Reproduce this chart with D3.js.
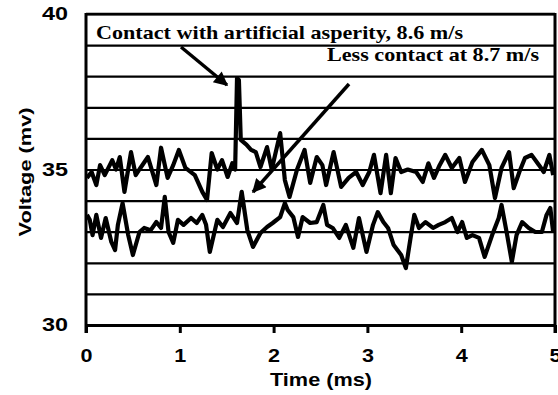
<!doctype html>
<html>
<head>
  <style>
    body { margin:0; background:#fff; }
    svg text { fill:#000; }
  </style>
  <script src="https://d3js.org/d3.v7.min.js"></script>
</head>
<body>
  <script type="text/javascript">
    // values
    var xTicks = [0, 1, 2, 3, 4, 5];
    var yTicks = [30, 31, 32, 33, 34, 35, 36, 37, 38, 39, 40];
    var yLabelled = [30, 35, 40];

    // 8.6 m/s trace (upper, with the spike)
    var timeUpper = [0.01,0.06,0.11,0.15,0.2,0.28,0.32,0.36,0.41,0.48,0.53,0.58,0.66,0.75,0.8,0.87,0.93,0.99,
      1.06,1.16,1.24,1.29,1.34,1.4,1.45,1.51,1.56,1.59,1.61,1.63,1.65,1.71,1.76,1.81,1.86,1.93,1.98,
      2.07,2.12,2.17,2.25,2.33,2.39,2.46,2.52,2.56,2.64,2.72,2.8,2.88,2.95,3.02,3.07,3.14,3.2,3.25,
      3.3,3.36,3.43,3.52,3.59,3.65,3.71,3.77,3.83,3.9,3.98,4.04,4.12,4.22,4.3,4.36,4.43,4.51,4.56,
      4.62,4.68,4.75,4.83,4.88,4.94,4.98];
    var voltUpper = [34.73,34.92,34.5,35.14,34.82,35.3,35.0,35.4,34.28,35.56,34.82,35.05,35.4,34.5,35.7,34.73,35.14,35.63,
      35.05,34.82,34.28,34.02,35.53,35.0,35.3,34.76,35.2,35.0,37.94,37.88,35.95,35.8,35.63,35.56,35.08,35.72,35.0,
      36.17,34.66,34.12,35.0,35.63,34.57,35.4,35.14,34.5,35.56,34.44,34.73,34.92,34.5,34.92,35.47,34.24,35.47,34.24,
      35.37,34.92,35.0,34.92,34.6,35.2,34.73,35.14,35.47,35.05,35.37,34.6,35.24,35.63,35.14,34.08,35.05,35.56,34.4,
      34.92,35.37,35.47,35.14,34.92,35.47,34.82];

    // 8.7 m/s trace (lower)
    var timeLower = [0.01,0.04,0.07,0.11,0.16,0.21,0.27,0.31,0.34,0.39,0.45,0.5,0.57,0.62,0.69,0.75,0.8,0.84,0.88,0.93,0.98,
      1.04,1.12,1.18,1.24,1.28,1.32,1.4,1.46,1.54,1.61,1.66,1.72,1.78,1.86,1.93,1.99,
      2.07,2.12,2.15,2.21,2.26,2.31,2.39,2.46,2.53,2.57,2.63,2.7,2.77,2.85,2.91,2.99,
      3.06,3.11,3.17,3.22,3.28,3.36,3.41,3.46,3.5,3.55,3.62,3.7,3.76,3.83,3.9,3.96,
      4.01,4.06,4.12,4.19,4.25,4.33,4.4,4.43,4.49,4.54,4.59,4.65,4.72,4.79,4.86,4.91,4.95,4.98];
    var voltLower = [33.54,33.38,32.89,33.54,32.8,33.44,32.67,32.41,33.22,33.92,32.89,32.25,32.99,33.12,33.05,33.31,33.12,34.12,32.99,32.64,33.38,
      33.22,33.44,33.28,33.54,33.22,32.35,33.38,33.15,33.6,33.28,34.28,33.05,32.51,32.96,33.15,33.28,
      33.47,33.92,33.7,33.47,32.83,33.47,33.28,33.31,33.86,33.22,33.12,32.8,33.22,32.48,33.44,32.35,
      33.22,33.63,33.31,33.12,32.57,32.25,31.83,32.8,33.54,33.12,33.31,33.12,33.22,33.31,33.44,32.99,
      33.31,32.8,32.89,32.8,32.19,32.89,33.44,33.86,32.89,32.03,32.89,33.31,33.12,32.99,32.99,33.54,33.76,32.99];

    var note1 = "Contact with artificial asperity, 8.6 m/s";
    var note2 = "Less contact at 8.7 m/s";

    var W = 558, H = 395;
    var pLeft = 86, pRight = 555, pTop = 14, pBottom = 325;

    var svg = d3.select("body").append("svg")
      .attr("width", W).attr("height", H);

    var x = d3.scaleLinear().domain([0, 5]).range([pLeft, pRight]);
    var y = d3.scaleLinear().domain([30, 40]).range([pBottom, pTop]);

    // horizontal gridlines + y labels
    var yAxis = d3.axisLeft(y)
      .tickValues(yTicks)
      .tickSize(-(pRight - pLeft))
      .tickPadding(18)
      .tickFormat(function(d) { return yLabelled.indexOf(d) >= 0 ? d : ""; });
    var gy = svg.append("g").attr("transform", "translate(" + pLeft + ",0)").call(yAxis);
    gy.select(".domain").remove();
    gy.selectAll("line").attr("stroke", "#000").attr("stroke-width", 2.2);
    gy.selectAll("text")
      .attr("font-family", "Liberation Sans, Arial, sans-serif")
      .attr("font-weight", "bold").attr("font-size", 18)
      .attr("textLength", function(d) { return yLabelled.indexOf(d) >= 0 ? 26 : null; })
      .attr("lengthAdjust", "spacingAndGlyphs");

    // x axis
    var xAxis = d3.axisBottom(x).tickValues(xTicks).tickFormat(d3.format("d"))
      .tickSize(8).tickSizeOuter(0).tickPadding(16);
    var gx = svg.append("g").attr("transform", "translate(0," + pBottom + ")").call(xAxis);
    gx.select(".domain").attr("stroke", "#000").attr("stroke-width", 3);
    gx.selectAll("line").attr("stroke", "#000").attr("stroke-width", 3);
    gx.selectAll("text")
      .attr("font-family", "Liberation Sans, Arial, sans-serif")
      .attr("font-weight", "bold").attr("font-size", 18)
      .attr("textLength", 12).attr("lengthAdjust", "spacingAndGlyphs");

    // frame
    svg.append("line").attr("x1", pLeft).attr("x2", pLeft).attr("y1", pTop - 1).attr("y2", pBottom + 8)
      .attr("stroke", "#000").attr("stroke-width", 3);
    svg.append("line").attr("x1", pRight).attr("x2", pRight).attr("y1", pTop - 1).attr("y2", pBottom + 8)
      .attr("stroke", "#000").attr("stroke-width", 3);
    svg.append("line").attr("x1", pLeft).attr("x2", pRight).attr("y1", pTop).attr("y2", pTop)
      .attr("stroke", "#000").attr("stroke-width", 2.5);

    // traces
    var line = d3.line().x(function(d) { return x(d[0]); }).y(function(d) { return y(d[1]); });
    [[timeUpper, voltUpper], [timeLower, voltLower]].forEach(function(s) {
      var pts = s[0].map(function(t, i) { return [t, s[1][i]]; });
      svg.append("path").datum(pts).attr("d", line)
        .attr("fill", "none").attr("stroke", "#000")
        .attr("stroke-width", 4.2).attr("stroke-linejoin", "round");
    });

    // arrows
    var defs = svg.append("defs");
    defs.append("marker").attr("id", "head")
      .attr("viewBox", "0 0 10 10").attr("refX", 9).attr("refY", 5)
      .attr("markerWidth", 5).attr("markerHeight", 4).attr("markerUnits", "strokeWidth")
      .attr("orient", "auto")
      .append("path").attr("d", "M0,0L10,5L0,10z").attr("fill", "#000");

    svg.append("line").attr("x1", 181).attr("y1", 47).attr("x2", 227).attr("y2", 85)
      .attr("stroke", "#000").attr("stroke-width", 3.5).attr("marker-end", "url(#head)");
    svg.append("line").attr("x1", 349).attr("y1", 84).attr("x2", 253).attr("y2", 192)
      .attr("stroke", "#000").attr("stroke-width", 3.5).attr("marker-end", "url(#head)");

    // annotations
    svg.append("text").attr("x", 96).attr("y", 39)
      .attr("font-family", "Liberation Serif, Times New Roman, serif")
      .attr("font-weight", "bold").attr("font-size", 19)
      .attr("textLength", 367).attr("lengthAdjust", "spacingAndGlyphs")
      .text(note1);
    svg.append("text").attr("x", 327).attr("y", 61)
      .attr("font-family", "Liberation Serif, Times New Roman, serif")
      .attr("font-weight", "bold").attr("font-size", 19)
      .attr("textLength", 212).attr("lengthAdjust", "spacingAndGlyphs")
      .text(note2);

    // axis titles
    svg.append("text").attr("x", 321).attr("y", 386)
      .attr("text-anchor", "middle")
      .attr("font-family", "Liberation Sans, Arial, sans-serif")
      .attr("font-weight", "bold").attr("font-size", 19)
      .attr("textLength", 102).attr("lengthAdjust", "spacingAndGlyphs")
      .text("Time (ms)");
    svg.append("text")
      .attr("transform", "translate(31,172) rotate(-90)")
      .attr("text-anchor", "middle")
      .attr("font-family", "Liberation Sans, Arial, sans-serif")
      .attr("font-weight", "bold").attr("font-size", 17)
      .attr("textLength", 129).attr("lengthAdjust", "spacingAndGlyphs")
      .text("Voltage (mv)");
  </script>
</body>
</html>
